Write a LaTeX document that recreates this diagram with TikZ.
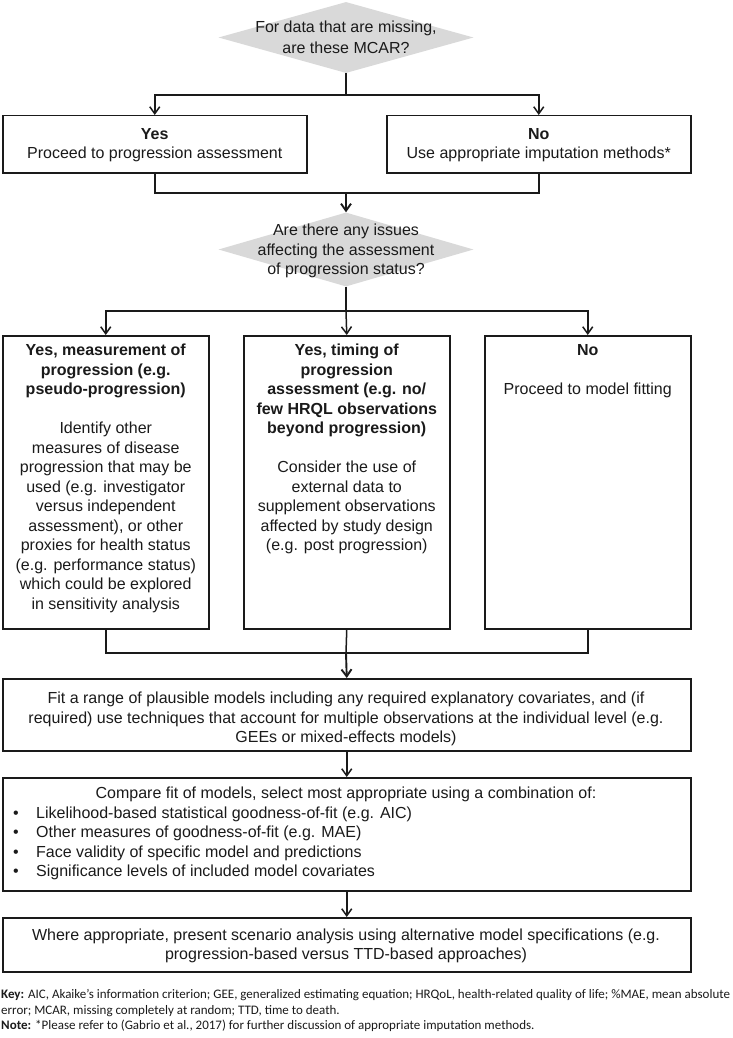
\documentclass[tikz,border=0pt]{standalone}
\usepackage{fontspec}
\setmainfont{Liberation Sans}
\newfontfamily\keyf{Carlito}
\usetikzlibrary{arrows.meta,shapes.geometric}
\definecolor{diagray}{HTML}{D9D9D9}
\definecolor{ink}{HTML}{1A1A1A}
\newcommand{\mf}{\fontsize{16pt}{19.5pt}\selectfont}
\begin{document}
\begin{tikzpicture}[x=1pt,y=-1pt,
  box/.style={draw=ink, line width=1.5pt, inner sep=0pt, anchor=north west},
  dia/.style={shape=diamond, fill=diagray, draw=none, inner sep=0pt, minimum width=255pt},
  txt/.style={align=center, inner sep=0pt, font=\mf, text=ink, anchor=north},
  conn/.style={draw=ink, line width=1.5pt},
  arr/.style={conn, -{Straight Barb[length=7pt,width=10pt,line width=1.5pt]}},
  harr/.style={conn, line width=1.9pt, -{Straight Barb[length=7pt,width=10pt,line width=1.9pt]}},
]
\useasboundingbox (0,0) rectangle (732,1038);
% decision 1
\node[dia, minimum height=71pt] (d1) at (346,37.5) {};
\node[txt] (d1t) at (346,21) {For data that are missing,\\[1.5pt]are these MCAR?};
% yes / no boxes
\node[box, minimum width=304pt, minimum height=57pt] (yes) at (2,115) {};
\node[box, minimum width=304pt, minimum height=57pt] (no) at (386,115) {};
\node[txt] (yest) at (yes.north |- 0,128) {\textbf{Yes}\\Proceed to progression assessment};
\node[txt] (not) at (no.north |- 0,128) {\textbf{No}\\Use appropriate imputation methods*};
\coordinate (j1) at (346,95);
\draw[conn] (d1.south) -- (j1);
\draw[arr] (j1) -| (yes.north);
\draw[arr] (j1) -| (no.north);
% decision 2
\node[dia, minimum height=74pt] (d2) at (346,249.5) {};
\node[txt] (d2t) at (346,224) {Are there any issues\\affecting the assessment\\of progression status?};
\coordinate (j2) at (346,193);
\draw[conn] (yes.south) |- (j2);
\draw[conn] (no.south) |- (j2);
\draw[harr] (j2) -- (d2.north);
% three boxes
\node[box, minimum width=206pt, minimum height=293pt] (A) at (2,335) {};
\node[box, minimum width=206pt, minimum height=293pt] (B) at (243,335) {};
\node[box, minimum width=206pt, minimum height=293pt] (C) at (484,335) {};
\node[txt] (At) at (A.north |- 0,344) {\textbf{Yes, measurement of}\\\textbf{progression (e.g.}\\\textbf{pseudo-progression)}\\[19.5pt]
Identify other\\measures of disease\\progression that may be\\used (e.g. investigator\\versus independent\\assessment), or other\\proxies for health status\\(e.g. performance status)\\which could be explored\\in sensitivity analysis};
\node[txt] (Bt) at (B.north |- 0,344) {\textbf{Yes, timing of}\\\textbf{progression}\\\textbf{assessment (e.g. no/}\\\textbf{few HRQL observations}\\\textbf{beyond progression)}\\[19.5pt]
Consider the use of\\external data to\\supplement observations\\affected by study design\\(e.g. post progression)};
\node[txt] (Ct) at (C.north |- 0,344) {\textbf{No}\\[19.5pt]Proceed to model fitting};
\coordinate (j3) at (346,311);
\draw[conn] (d2.south) -- (j3);
\draw[arr] (j3) -| (A.north);
\draw[arr] (j3) -- (B.north);
\draw[arr] (j3) -| (C.north);
% fit box
\node[box, minimum width=688pt, minimum height=72pt] (fit) at (2,678) {};
\node[txt] (fitt) at (346,692) {Fit a range of plausible models including any required explanatory covariates, and (if\\required) use techniques that account for multiple observations at the individual level (e.g.\\GEEs or mixed-effects models)};
\coordinate (j4) at (346,653);
\draw[conn] (A.south) |- (j4);
\draw[conn] (C.south) |- (j4);
\draw[conn] (B.south) -- (j4);
\draw[harr] (j4) -- (fit.north);
% compare box
\node[box, minimum width=688pt, minimum height=113pt] (cmp) at (2,777) {};
\node[txt] (cmph) at (346,787) {Compare fit of models, select most appropriate using a combination of:};
\node[txt, align=left, anchor=north west] (cmpl) at (13,806.5) {\makebox[23pt][l]{•}Likelihood-based statistical goodness-of-fit (e.g. AIC)\\
\makebox[23pt][l]{•}Other measures of goodness-of-fit (e.g. MAE)\\
\makebox[23pt][l]{•}Face validity of specific model and predictions\\
\makebox[23pt][l]{•}Significance levels of included model covariates};
\draw[arr] (fit.south) -- (cmp.north);
% where box
\node[box, minimum width=688pt, minimum height=54pt] (wh) at (2,917) {};
\node[txt] (wht) at (346,928.3) {Where appropriate, present scenario analysis using alternative model specifications (e.g.\\progression-based versus TTD-based approaches)};
\draw[arr] (cmp.south) -- (wh.north);
% key
\node[inner sep=0pt, anchor=north west, align=left, text=ink, font=\keyf\fontsize{13pt}{15.7pt}\selectfont] (key) at (1,989) {\textbf{Key:} AIC, Akaike’s information criterion; GEE, generalized estimating equation; HRQoL, health-related quality of life; \%MAE, mean absolute\\error; MCAR, missing completely at random; TTD, time to death.\\\textbf{Note:} *Please refer to (Gabrio et al., 2017) for further discussion of appropriate imputation methods.};
\end{tikzpicture}
\end{document}
